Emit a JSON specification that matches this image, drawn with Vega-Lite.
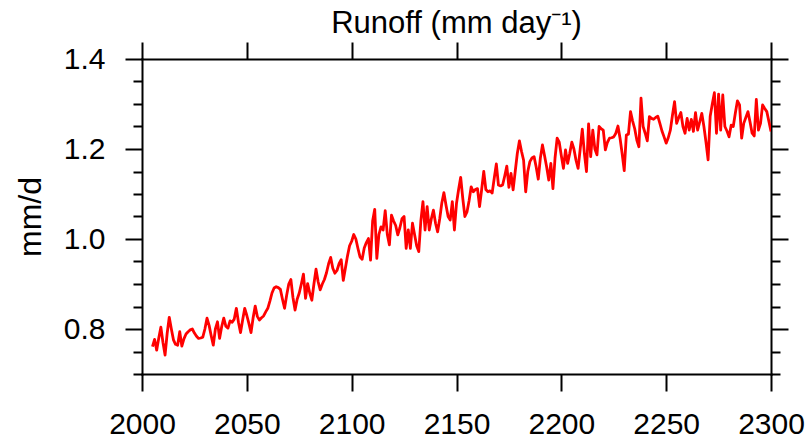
{
  "$schema": "https://vega.github.io/schema/vega-lite/v6.json",
  "width": 629,
  "height": 315,
  "autosize": {"type": "none"},
  "padding": {"left": 142, "top": 59, "right": 39, "bottom": 67},
  "background": "white",
  "title": {"text": "Runoff (mm day⁻¹)", "font": "Liberation Sans", "fontSize": 31, "fontWeight": "normal", "color": "black", "anchor": "middle", "baseline": "alphabetic", "offset": -23},
  "config": {
    "view": {"stroke": null},
    "axis": {"grid": false, "domainColor": "black", "domainWidth": 2, "tickColor": "black", "tickWidth": 2, "labelColor": "black", "labelFont": "Liberation Sans", "labelFontSize": 30, "titleFont": "Liberation Sans", "titleFontWeight": "normal", "titleColor": "black", "labelFlush": false, "labelOverlap": false, "labelBound": false, "domainCap": "square"}
  },
  "data": {"values": [
    {"year":2005,"runoff":0.761},{"year":2006,"runoff":0.777},{"year":2007,"runoff":0.753},{"year":2008,"runoff":0.780},{"year":2009,"runoff":0.804},
    {"year":2010,"runoff":0.770},{"year":2011,"runoff":0.742},{"year":2012,"runoff":0.790},{"year":2013,"runoff":0.826},{"year":2014,"runoff":0.800},
    {"year":2015,"runoff":0.776},{"year":2016,"runoff":0.766},{"year":2017,"runoff":0.764},{"year":2018,"runoff":0.794},{"year":2019,"runoff":0.762},
    {"year":2020,"runoff":0.778},{"year":2021,"runoff":0.789},{"year":2022,"runoff":0.794},{"year":2023,"runoff":0.798},{"year":2024,"runoff":0.800},
    {"year":2025,"runoff":0.791},{"year":2026,"runoff":0.784},{"year":2027,"runoff":0.779},{"year":2028,"runoff":0.780},{"year":2029,"runoff":0.782},
    {"year":2030,"runoff":0.800},{"year":2031,"runoff":0.824},{"year":2032,"runoff":0.808},{"year":2033,"runoff":0.785},{"year":2034,"runoff":0.764},
    {"year":2035,"runoff":0.800},{"year":2036,"runoff":0.816},{"year":2037,"runoff":0.779},{"year":2038,"runoff":0.805},{"year":2039,"runoff":0.824},
    {"year":2040,"runoff":0.806},{"year":2041,"runoff":0.802},{"year":2042,"runoff":0.818},{"year":2043,"runoff":0.815},{"year":2044,"runoff":0.822},
    {"year":2045,"runoff":0.846},{"year":2046,"runoff":0.815},{"year":2047,"runoff":0.792},{"year":2048,"runoff":0.820},{"year":2049,"runoff":0.846},
    {"year":2050,"runoff":0.830},{"year":2051,"runoff":0.812},{"year":2052,"runoff":0.792},{"year":2053,"runoff":0.825},{"year":2054,"runoff":0.851},
    {"year":2055,"runoff":0.828},{"year":2056,"runoff":0.820},{"year":2057,"runoff":0.825},{"year":2058,"runoff":0.829},{"year":2059,"runoff":0.838},
    {"year":2060,"runoff":0.846},{"year":2061,"runoff":0.862},{"year":2062,"runoff":0.880},{"year":2063,"runoff":0.891},{"year":2064,"runoff":0.894},
    {"year":2065,"runoff":0.892},{"year":2066,"runoff":0.888},{"year":2067,"runoff":0.866},{"year":2068,"runoff":0.846},{"year":2069,"runoff":0.875},
    {"year":2070,"runoff":0.900},{"year":2071,"runoff":0.910},{"year":2072,"runoff":0.870},{"year":2073,"runoff":0.842},{"year":2074,"runoff":0.866},
    {"year":2075,"runoff":0.880},{"year":2076,"runoff":0.900},{"year":2077,"runoff":0.922},{"year":2078,"runoff":0.868},{"year":2079,"runoff":0.901},
    {"year":2080,"runoff":0.880},{"year":2081,"runoff":0.864},{"year":2082,"runoff":0.900},{"year":2083,"runoff":0.933},{"year":2084,"runoff":0.905},
    {"year":2085,"runoff":0.887},{"year":2086,"runoff":0.900},{"year":2087,"runoff":0.910},{"year":2088,"runoff":0.925},{"year":2089,"runoff":0.945},
    {"year":2090,"runoff":0.959},{"year":2091,"runoff":0.935},{"year":2092,"runoff":0.924},{"year":2093,"runoff":0.930},{"year":2094,"runoff":0.945},
    {"year":2095,"runoff":0.954},{"year":2096,"runoff":0.908},{"year":2097,"runoff":0.935},{"year":2098,"runoff":0.962},{"year":2099,"runoff":0.985},
    {"year":2100,"runoff":0.995},{"year":2101,"runoff":1.010},{"year":2102,"runoff":1.000},{"year":2103,"runoff":0.979},{"year":2104,"runoff":0.960},
    {"year":2105,"runoff":0.955},{"year":2106,"runoff":0.980},{"year":2107,"runoff":0.992},{"year":2108,"runoff":1.001},{"year":2109,"runoff":0.953},
    {"year":2110,"runoff":1.040},{"year":2111,"runoff":1.066},{"year":2112,"runoff":0.957},{"year":2113,"runoff":1.010},{"year":2114,"runoff":1.027},
    {"year":2115,"runoff":1.020},{"year":2116,"runoff":1.063},{"year":2117,"runoff":1.010},{"year":2118,"runoff":0.987},{"year":2119,"runoff":1.053},
    {"year":2120,"runoff":1.040},{"year":2121,"runoff":1.030},{"year":2122,"runoff":1.009},{"year":2123,"runoff":1.025},{"year":2124,"runoff":1.045},
    {"year":2125,"runoff":1.050},{"year":2126,"runoff":0.979},{"year":2127,"runoff":1.020},{"year":2128,"runoff":0.979},{"year":2129,"runoff":1.035},
    {"year":2130,"runoff":1.010},{"year":2131,"runoff":0.985},{"year":2132,"runoff":0.972},{"year":2133,"runoff":1.040},{"year":2134,"runoff":1.083},
    {"year":2135,"runoff":1.020},{"year":2136,"runoff":1.072},{"year":2137,"runoff":1.020},{"year":2138,"runoff":1.045},{"year":2139,"runoff":1.064},
    {"year":2140,"runoff":1.035},{"year":2141,"runoff":1.016},{"year":2142,"runoff":1.045},{"year":2143,"runoff":1.080},{"year":2144,"runoff":1.103},
    {"year":2145,"runoff":1.075},{"year":2146,"runoff":1.050},{"year":2147,"runoff":1.042},{"year":2148,"runoff":1.083},{"year":2149,"runoff":1.020},
    {"year":2150,"runoff":1.079},{"year":2151,"runoff":1.110},{"year":2152,"runoff":1.137},{"year":2153,"runoff":1.090},{"year":2154,"runoff":1.050},
    {"year":2155,"runoff":1.060},{"year":2156,"runoff":1.085},{"year":2157,"runoff":1.116},{"year":2158,"runoff":1.105},{"year":2159,"runoff":1.110},
    {"year":2160,"runoff":1.112},{"year":2161,"runoff":1.072},{"year":2162,"runoff":1.110},{"year":2163,"runoff":1.150},{"year":2164,"runoff":1.110},
    {"year":2165,"runoff":1.105},{"year":2166,"runoff":1.107},{"year":2167,"runoff":1.102},{"year":2168,"runoff":1.135},{"year":2169,"runoff":1.167},
    {"year":2170,"runoff":1.120},{"year":2171,"runoff":1.118},{"year":2172,"runoff":1.120},{"year":2173,"runoff":1.140},{"year":2174,"runoff":1.162},
    {"year":2175,"runoff":1.115},{"year":2176,"runoff":1.146},{"year":2177,"runoff":1.109},{"year":2178,"runoff":1.150},{"year":2179,"runoff":1.190},
    {"year":2180,"runoff":1.218},{"year":2181,"runoff":1.195},{"year":2182,"runoff":1.175},{"year":2183,"runoff":1.105},{"year":2184,"runoff":1.150},
    {"year":2185,"runoff":1.172},{"year":2186,"runoff":1.180},{"year":2187,"runoff":1.183},{"year":2188,"runoff":1.160},{"year":2189,"runoff":1.133},
    {"year":2190,"runoff":1.180},{"year":2191,"runoff":1.209},{"year":2192,"runoff":1.185},{"year":2193,"runoff":1.160},{"year":2194,"runoff":1.131},
    {"year":2195,"runoff":1.168},{"year":2196,"runoff":1.112},{"year":2197,"runoff":1.180},{"year":2198,"runoff":1.224},{"year":2199,"runoff":1.215},
    {"year":2200,"runoff":1.185},{"year":2201,"runoff":1.157},{"year":2202,"runoff":1.198},{"year":2203,"runoff":1.168},{"year":2204,"runoff":1.190},
    {"year":2205,"runoff":1.215},{"year":2206,"runoff":1.200},{"year":2207,"runoff":1.175},{"year":2208,"runoff":1.157},{"year":2209,"runoff":1.200},
    {"year":2210,"runoff":1.244},{"year":2211,"runoff":1.190},{"year":2212,"runoff":1.150},{"year":2213,"runoff":1.256},{"year":2214,"runoff":1.183},
    {"year":2215,"runoff":1.242},{"year":2216,"runoff":1.200},{"year":2217,"runoff":1.187},{"year":2218,"runoff":1.250},{"year":2219,"runoff":1.245},
    {"year":2220,"runoff":1.242},{"year":2221,"runoff":1.198},{"year":2222,"runoff":1.215},{"year":2223,"runoff":1.224},{"year":2224,"runoff":1.225},
    {"year":2225,"runoff":1.227},{"year":2226,"runoff":1.235},{"year":2227,"runoff":1.251},{"year":2228,"runoff":1.224},{"year":2229,"runoff":1.190},
    {"year":2230,"runoff":1.152},{"year":2231,"runoff":1.231},{"year":2232,"runoff":1.233},{"year":2233,"runoff":1.283},{"year":2234,"runoff":1.262},
    {"year":2235,"runoff":1.245},{"year":2236,"runoff":1.220},{"year":2237,"runoff":1.205},{"year":2238,"runoff":1.313},{"year":2239,"runoff":1.250},
    {"year":2240,"runoff":1.235},{"year":2241,"runoff":1.218},{"year":2242,"runoff":1.272},{"year":2243,"runoff":1.268},{"year":2244,"runoff":1.266},
    {"year":2245,"runoff":1.270},{"year":2246,"runoff":1.273},{"year":2247,"runoff":1.257},{"year":2248,"runoff":1.240},{"year":2249,"runoff":1.227},
    {"year":2250,"runoff":1.213},{"year":2251,"runoff":1.225},{"year":2252,"runoff":1.242},{"year":2253,"runoff":1.275},{"year":2254,"runoff":1.305},
    {"year":2255,"runoff":1.257},{"year":2256,"runoff":1.270},{"year":2257,"runoff":1.281},{"year":2258,"runoff":1.250},{"year":2259,"runoff":1.235},
    {"year":2260,"runoff":1.268},{"year":2261,"runoff":1.242},{"year":2262,"runoff":1.266},{"year":2263,"runoff":1.239},{"year":2264,"runoff":1.281},
    {"year":2265,"runoff":1.242},{"year":2266,"runoff":1.260},{"year":2267,"runoff":1.279},{"year":2268,"runoff":1.250},{"year":2269,"runoff":1.215},
    {"year":2270,"runoff":1.176},{"year":2271,"runoff":1.273},{"year":2272,"runoff":1.300},{"year":2273,"runoff":1.325},{"year":2274,"runoff":1.235},
    {"year":2275,"runoff":1.322},{"year":2276,"runoff":1.242},{"year":2277,"runoff":1.320},{"year":2278,"runoff":1.250},{"year":2279,"runoff":1.240},
    {"year":2280,"runoff":1.227},{"year":2281,"runoff":1.253},{"year":2282,"runoff":1.250},{"year":2283,"runoff":1.280},{"year":2284,"runoff":1.307},
    {"year":2285,"runoff":1.298},{"year":2286,"runoff":1.224},{"year":2287,"runoff":1.257},{"year":2288,"runoff":1.270},{"year":2289,"runoff":1.283},
    {"year":2290,"runoff":1.260},{"year":2291,"runoff":1.235},{"year":2292,"runoff":1.229},{"year":2293,"runoff":1.310},{"year":2294,"runoff":1.242},
    {"year":2295,"runoff":1.257},{"year":2296,"runoff":1.298},{"year":2297,"runoff":1.290},{"year":2298,"runoff":1.283},{"year":2299,"runoff":1.261},
    {"year":2300,"runoff":1.239}
  ]},
  "layer": [
    {
      "mark": {"type": "line", "color": "#ff0000", "strokeWidth": 2.8, "strokeJoin": "round", "clip": true},
      "encoding": {
        "x": {"field": "year", "type": "quantitative", "scale": {"domain": [2000, 2300], "nice": false, "zero": false},
              "axis": {"orient": "bottom", "title": null, "values": [2000, 2050, 2100, 2150, 2200, 2250, 2300], "format": "d", "tickSize": 17, "labelPadding": 18}},
        "y": {"field": "runoff", "type": "quantitative", "scale": {"domain": [0.7, 1.4], "nice": false, "zero": false},
              "axis": {"orient": "left", "title": "mm/d", "titleFontSize": 32, "titlePadding": 16, "values": [0.8, 1.0, 1.2, 1.4], "format": ".1f", "tickSize": 17, "labelPadding": 20}}
      }
    },
    {
      "mark": {"type": "line", "opacity": 0},
      "encoding": {
        "x": {"field": "year", "type": "quantitative", "axis": {"orient": "top", "title": null, "values": [2000, 2050, 2100, 2150, 2200, 2250, 2300], "labels": false, "tickSize": 17}},
        "y": {"field": "runoff", "type": "quantitative", "axis": {"orient": "right", "title": null, "values": [0.8, 1.0, 1.2, 1.4], "labels": false, "tickSize": 17}}
      }
    },
    {
      "mark": {"type": "line", "opacity": 0},
      "encoding": {
        "x": {"field": "year", "type": "quantitative", "axis": null},
        "y": {"field": "runoff", "type": "quantitative", "axis": {"orient": "left", "title": null, "domain": false, "labels": false, "values": [0.7, 0.75, 0.85, 0.9, 0.95, 1.05, 1.1, 1.15, 1.25, 1.3, 1.35], "tickSize": 9}}
      }
    },
    {
      "mark": {"type": "line", "opacity": 0},
      "encoding": {
        "x": {"field": "year", "type": "quantitative", "axis": null},
        "y": {"field": "runoff", "type": "quantitative", "axis": {"orient": "right", "title": null, "domain": false, "labels": false, "values": [0.7, 0.75, 0.85, 0.9, 0.95, 1.05, 1.1, 1.15, 1.25, 1.3, 1.35], "tickSize": 9}}
      }
    }
  ],
  "resolve": {"axis": {"x": "independent", "y": "independent"}}
}
